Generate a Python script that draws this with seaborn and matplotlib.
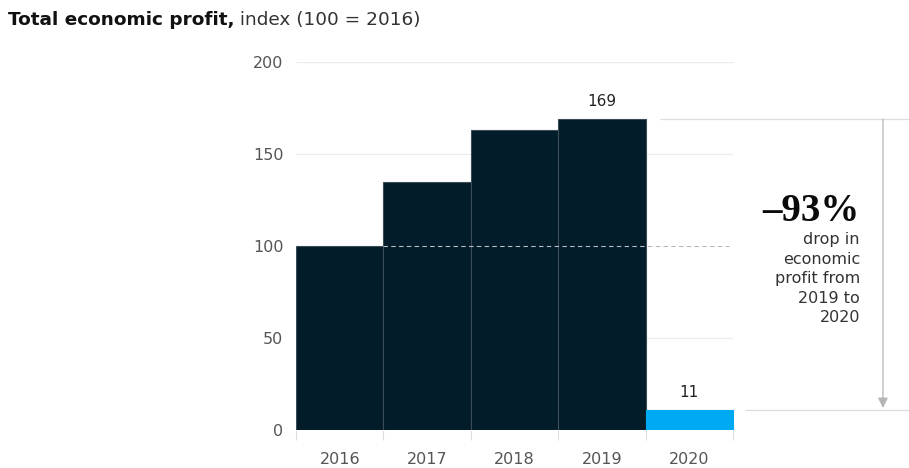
import numpy as np
import pandas as pd
import matplotlib
matplotlib.use("Agg")
import matplotlib.pyplot as plt
import seaborn as sns

# data
years = ["2016", "2017", "2018", "2019", "2020"]
profit_index = [100, 135, 163, 169, 11]
bar_colors = ["#021c2a", "#021c2a", "#021c2a", "#021c2a", "#00a9f4"]
y_ticks = [0, 50, 100, 150, 200]
drop_pct = "\u201393%"
drop_note = "drop in\neconomic\nprofit from\n2019 to\n2020"

df = pd.DataFrame({"year": years, "index": profit_index})

sns.set_theme(style="white")
plt.rcParams["font.family"] = ["DejaVu Sans"]

fig = plt.figure(figsize=(9.09, 4.68), dpi=100)
ax = fig.add_axes([296 / 909, 38 / 468, 613 / 909, 368 / 468])

sns.barplot(data=df, x="year", y="index", hue="year", palette=bar_colors,
            saturation=1, width=1.0, legend=False, ax=ax,
            edgecolor="#3d4d58", linewidth=0.8, zorder=2)
# blue bar has no separator edge
for p, c in zip(ax.patches, bar_colors):
    if c != bar_colors[0]:
        p.set_edgecolor(c)

ax.set_xlim(-0.5, 6.514)
ax.set_ylim(0, 200)

# gridlines
for yv in [50, 150, 200]:
    ax.hlines(yv, -0.5, 4.5, color="#ececec", lw=0.9, zorder=0)
ax.hlines(100, 0.5, 4.45, color="#b8bcc0", lw=0.8, ls=(0, (4, 3)), zorder=3)

# reference lines for the drop annotation
ax.hlines(profit_index[3], 3.665, 6.514, color="#dddddd", lw=0.9, zorder=1,
          clip_on=False)
ax.hlines(profit_index[4], 4.637, 6.514, color="#dddddd", lw=0.9, zorder=1,
          clip_on=False)
ax.annotate("", xy=(6.216, profit_index[4] + 1), xytext=(6.216, profit_index[3]),
            arrowprops=dict(arrowstyle="-|>,head_length=0.5,head_width=0.25",
                            color="#b5b5b5", lw=0.9, shrinkA=0, shrinkB=0))

# value labels
for i in [3, 4]:
    ax.annotate(str(profit_index[i]), xy=(i, profit_index[i]), xytext=(0, 7),
                textcoords="offset points", ha="center", va="bottom",
                fontsize=11, color="#222222")

# drop callout
ax.text(5.953, 119, drop_pct, ha="right", va="center", fontsize=28,
        fontweight="bold", family=["Liberation Serif", "DejaVu Serif"],
        color="#0b0b0b")
ax.text(5.953, 107.5, drop_note, ha="right", va="top", fontsize=11.5,
        color="#333333", linespacing=1.37)

# axes styling
for s in ax.spines.values():
    s.set_visible(False)
ax.set_xlabel("")
ax.set_ylabel("")
ax.set_yticks(y_ticks)
ax.set_yticklabels([str(t) for t in y_ticks], fontsize=11.5, color="#555555")
ax.tick_params(axis="y", length=0, pad=9)
ax.set_xticks(range(len(years)))
ax.set_xticklabels(years, fontsize=11.5, color="#555555")
ax.set_xticks(np.arange(-0.5, len(years)), minor=True)
ax.tick_params(axis="x", which="major", length=0, pad=16)
ax.tick_params(axis="x", which="minor", length=7, width=0.8, color="#dddddd",
               bottom=True)
ax.grid(False)

# title
t1 = fig.text(8 / 909, 1 - 20 / 468, "Total economic profit,", fontsize=13.3,
              fontweight="bold", color="#111111", va="center")
ax.annotate(" index (100 = 2016)", xy=(1, 0.5), xycoords=t1, va="center",
            fontsize=13.3, color="#333333")

fig.savefig("out.png", dpi=100)
